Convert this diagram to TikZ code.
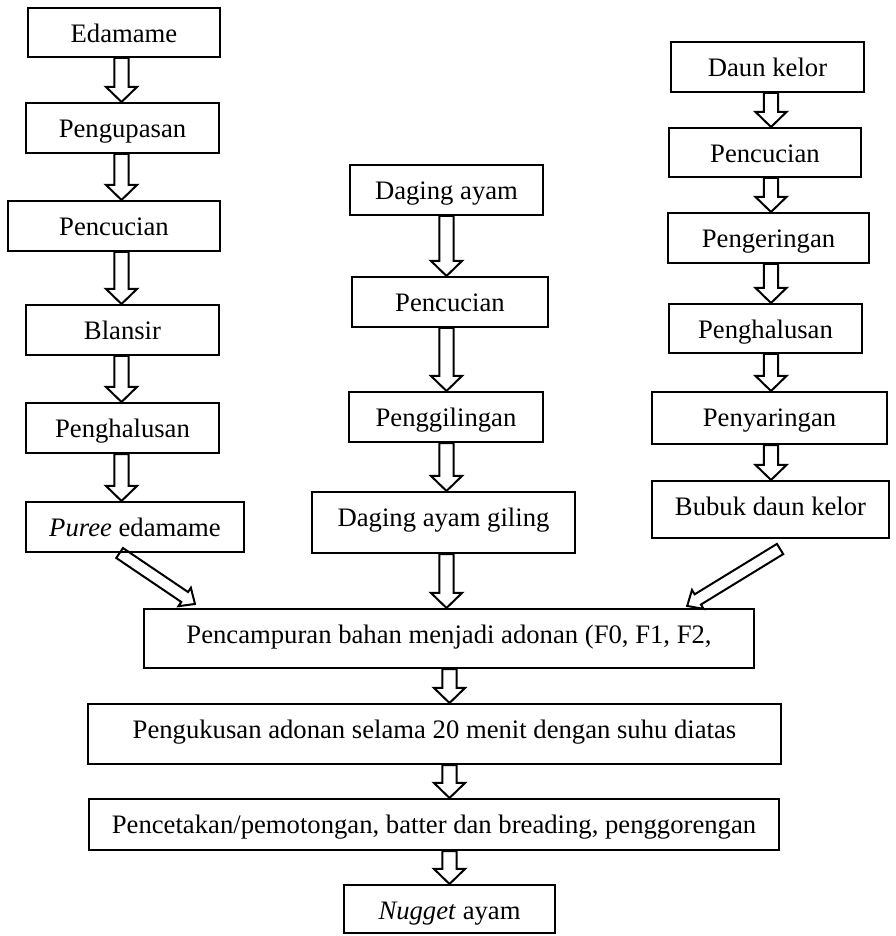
\documentclass[tikz,border=0pt]{standalone}
\usepackage{fontspec}
\setmainfont{Liberation Serif}
\usetikzlibrary{calc}

\tikzset{
  box/.style 2 args={draw, line width=0.9pt, inner sep=0pt,
    minimum width=#1*0.45pt, minimum height=#2*0.45pt,
    text height=15.5pt, text depth=#2*0.45pt-15.5pt,
    font=\fontsize{12pt}{14pt}\selectfont},
  arrowline/.style={line width=0.9pt, line join=miter}
}

% hollow block arrow: tail, tip, shaft half width, head half width, head length
\newcommand{\blockarrow}[5]{%
  \draw[arrowline] let \p1=(#1), \p2=(#2),
      \n1={atan2(\y2-(\y1),\x2-(\x1))}, \n2={veclen(\x2-(\x1),\y2-(\y1))} in
    [shift={(\p1)}, rotate=\n1]
    (0pt,#3) -- ({\n2*1pt-#5},#3) -- ({\n2*1pt-#5},#4) -- ({\n2*1pt},0pt)
    -- ({\n2*1pt-#5},-#4) -- ({\n2*1pt-#5},-#3) -- (0pt,-#3) -- cycle;}
\newcommand{\flowarrow}[2]{\blockarrow{#1}{#2}{3.2pt}{7pt}{6.8pt}}
\newcommand{\slantarrow}[2]{\blockarrow{#1}{#2}{2.7pt}{5pt}{5.6pt}}

\begin{document}
\begin{tikzpicture}[x=0.45pt, y=-0.45pt]
  \path[fill=white] (0,0) rectangle (895,936);

  % edamame
  \node[box={192}{49}] (edam) at (124,32.5) {Edamame};
  \node[box={193}{50}] (pengup) at (122.5,128) {Pengupasan};
  \node[box={212}{50}] (cuciA) at (114,226) {Pencucian};
  \node[box={193}{50}] (blansir) at (122.5,330) {Blansir};
  \node[box={193}{50}] (halusA) at (122.5,428) {Penghalusan};
  \node[box={218}{50}] (puree) at (135,527) {\textit{Puree} edamame};

  % daging ayam
  \node[box={193}{50}] (ayam) at (446.5,190) {Daging ayam};
  \node[box={196}{50}] (cuciB) at (450,302) {Pencucian};
  \node[box={194}{50}] (giling) at (446,417) {Penggilingan};
  \node[box={263}{61}] (ayamgil) at (443.5,522.5) {Daging ayam giling};

  % daun kelor
  \node[box={193}{50}] (kelor) at (767.5,67) {Daun kelor};
  \node[box={192}{49}] (cuciC) at (765,152.5) {Pencucian};
  \node[box={201}{50}] (kering) at (768.5,238) {Pengeringan};
  \node[box={193}{49}] (halusC) at (765.5,328.5) {Penghalusan};
  \node[box={235}{52}] (saring) at (769.5,418) {Penyaringan};
  \node[box={237}{57}] (bubuk) at (770.5,509.5) {Bubuk daun kelor};

  % adonan
  \node[box={610}{59}] (mix) at (449,638.5) {Pencampuran bahan menjadi adonan (F0, F1, F2,};
  \node[box={693}{60}] (kukus) at (434.5,734) {Pengukusan adonan selama 20 menit dengan suhu diatas};
  \node[box={690}{51}] (cetak) at (434,824.5) {Pencetakan/pemotongan, batter dan breading, penggorengan};
  \node[box={211}{48}] (nugget) at (449.5,909) {\textit{Nugget} ayam};

  \coordinate (colA) at (121.5,0);
  \coordinate (colB) at (446.5,0);
  \coordinate (colC) at (771,0);
  \coordinate (colD) at (449.5,0);

  \flowarrow{edam.south -| colA}{pengup.north -| colA}
  \flowarrow{pengup.south -| colA}{cuciA.north -| colA}
  \flowarrow{cuciA.south -| colA}{blansir.north -| colA}
  \flowarrow{blansir.south -| colA}{halusA.north -| colA}
  \flowarrow{halusA.south -| colA}{puree.north -| colA}

  \flowarrow{ayam.south -| colB}{cuciB.north -| colB}
  \flowarrow{cuciB.south -| colB}{giling.north -| colB}
  \flowarrow{giling.south -| colB}{ayamgil.north -| colB}
  \flowarrow{ayamgil.south -| colB}{mix.north -| colB}

  \flowarrow{kelor.south -| colC}{cuciC.north -| colC}
  \flowarrow{cuciC.south -| colC}{kering.north -| colC}
  \flowarrow{kering.south -| colC}{halusC.north -| colC}
  \flowarrow{halusC.south -| colC}{saring.north -| colC}
  \flowarrow{saring.south -| colC}{bubuk.north -| colC}

  \slantarrow{$(puree.south west)!0.43!(puree.south east)$}{$(mix.north west)!0.085!(mix.north east)+(0,-4)$}
  \slantarrow{$(bubuk.south west)!0.54!(bubuk.south east)+(0,10)$}{$(mix.north west)!0.889!(mix.north east)+(0,-2)$}

  \flowarrow{mix.south -| colD}{kukus.north -| colD}
  \flowarrow{kukus.south -| colD}{cetak.north -| colD}
  \flowarrow{cetak.south -| colD}{nugget.north -| colD}
\end{tikzpicture}
\end{document}
